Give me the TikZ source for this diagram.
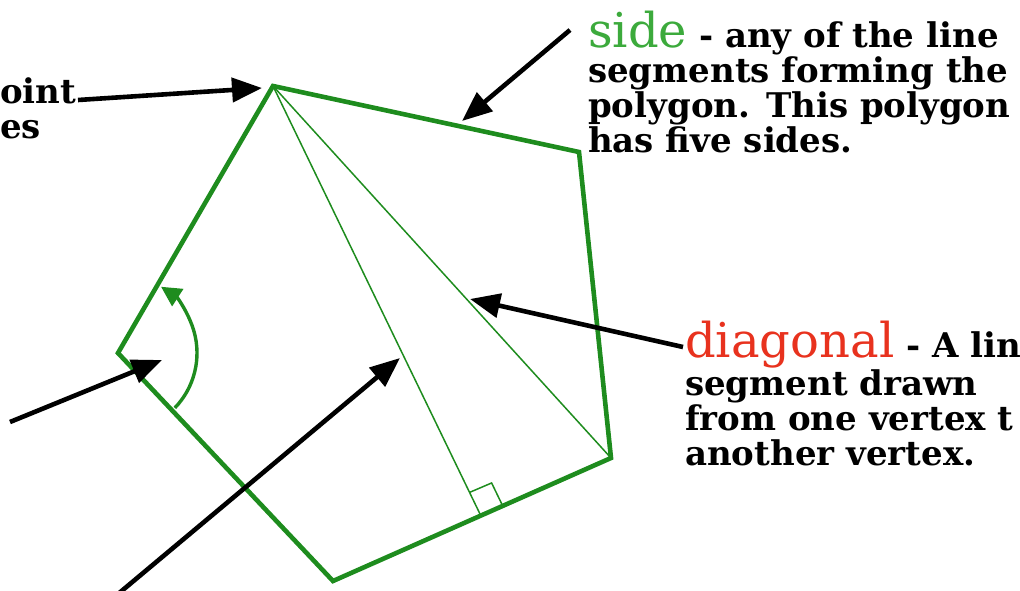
\documentclass[tikz,border=0pt]{standalone}
\usepackage{fontspec}
\setmainfont{DejaVu Serif}
\usetikzlibrary{arrows.meta,calc}
\definecolor{polygreen}{HTML}{1E8C1E}
\definecolor{termgreen}{HTML}{3CAA3C}
\definecolor{termred}{HTML}{E8321E}
\tikzset{
  polyside/.style={draw=polygreen,line width=4.6pt,line join=miter},
  diag/.style={draw=polygreen,line width=1.5pt},
  pointer/.style={-{Triangle[length=30pt,width=24pt]},line width=4.6pt,draw=black},
  turn/.style={-{Triangle[length=20pt,width=20pt]},line width=3.4pt,draw=polygreen},
  desc/.style={font=\bfseries\fontsize{34}{35}\selectfont,align=left,inner sep=0pt,anchor=base west}
}
\newcommand{\termword}[2]{{\mdseries\fontsize{48}{35}\selectfont\textcolor{#1}{#2}}}

\begin{document}
\begin{tikzpicture}[x=1pt,y=-1pt]
\useasboundingbox (0,0) rectangle (1020,590);
% polygon corners
\coordinate (A) at (273,86);
\coordinate (B) at (579,152);
\coordinate (C) at (611,458);
\coordinate (D) at (333,581);
\coordinate (E) at (118,353);
\coordinate (F) at (480,514);
% right angle mark
\coordinate (F1) at ($(F)!24pt!(A)$);
\coordinate (F2) at ($(F)!24pt!(C)$);
\coordinate (F3) at ($(F1)+(F2)-(F)$);

\draw[diag] (A) -- (C);
\draw[diag] (A) -- (F);
\draw[diag] (F1) -- (F3) -- (F2);
\draw[polyside] (A) -- (B) -- (C) -- (D) -- (E) -- cycle;
\draw[turn] ($(E)+(44:79)$) arc[start angle=44,end angle=-57,radius=79];

% labels
\node[desc] (vertex) at (0,138) {oint\\es};
\node[desc] (sidetext) at (588,152) {\termword{termgreen}{side} - any of the line\\segments forming the\\polygon.  This polygon\\has five sides.};
\node[desc] (diagtext) at (685,465) {\termword{termred}{diagonal} - A lin\\segment drawn\\from one vertex t\\another vertex.};

% pointers
\coordinate (vtail) at (78,100);
\coordinate (vtip) at (262,88);
\coordinate (stail) at (570,30);
\coordinate (stip) at (462,121);
\coordinate (dtail) at (683,347);
\coordinate (dtip) at (470,299);
\coordinate (atail) at (10,422);
\coordinate (atip) at (162,360);
\coordinate (ltail) at (118,594);
\coordinate (ltip) at (400,358);
\draw[pointer] (vtail) -- (vtip);
\draw[pointer] (stail) -- (stip);
\draw[pointer] (dtail) -- (dtip);
\draw[pointer] (atail) -- (atip);
\draw[pointer] (ltail) -- (ltip);
\end{tikzpicture}
\end{document}
